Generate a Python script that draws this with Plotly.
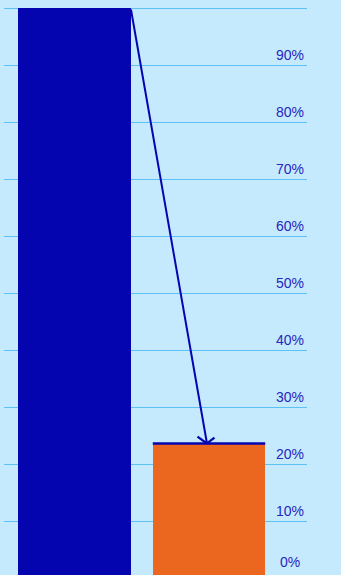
import plotly.graph_objects as go

# Data
categories = [0, 1]
values = [1.0, 0.236]
bar_colors = ["#0505B0", "#EB671F"]
tick_values = [0, 0.1, 0.2, 0.3, 0.4, 0.5, 0.6, 0.7, 0.8, 0.9, 1.0]
tick_labels = ["", "10%", "20%", "30%", "40%", "50%", "60%", "70%", "80%", "90%", ""]
zero_label = "0%"

BG = "#C5EAFD"
GRID = "#5CC1F5"
TXT = "#2626BF"
DARK = "#0505B0"
FONT = "Liberation Sans, Arial, sans-serif"
bar_w = 0.836

fig = go.Figure()
fig.add_trace(go.Bar(
    x=categories, y=values, width=bar_w,
    marker=dict(color=bar_colors, line=dict(width=0)),
    hoverinfo="skip", showlegend=False,
))

# dark line on top of the second bar
fig.add_shape(type="line", xref="x", yref="y",
              x0=categories[1] - bar_w / 2, x1=categories[1] + bar_w / 2,
              y0=values[1], y1=values[1],
              line=dict(color=DARK, width=2.5))

# arrow from top-right of first bar to top of second bar
fig.add_annotation(x=categories[1] - 0.015, y=values[1], ax=categories[0] + bar_w / 2, ay=values[0],
                   xref="x", yref="y", axref="x", ayref="y",
                   showarrow=True, arrowhead=0, arrowwidth=2, arrowcolor=DARK, text="")
for dx, dy in [(-11, -8), (9, -7)]:
    fig.add_annotation(x=categories[1] - 0.015, y=values[1], xref="x", yref="y",
                       ax=dx, ay=dy, showarrow=True, arrowhead=0, arrowwidth=2.2,
                       arrowcolor=DARK, text="")

# 0% label sits a little higher than the other labels
fig.add_annotation(x=1, y=tick_values[0], xref="paper", yref="y", text=zero_label,
                   showarrow=False, xanchor="right", yanchor="middle", xshift=-5, yshift=16,
                   font=dict(family=FONT, size=14, color=TXT))

fig.update_layout(
    width=341, height=578,
    margin=dict(l=4, r=34, t=7, b=0, pad=0),
    paper_bgcolor=BG, plot_bgcolor=BG,
    bargap=0,
    xaxis=dict(range=[-0.524, 1.7286], showgrid=False, zeroline=False,
               showticklabels=False, fixedrange=True),
    yaxis=dict(range=[0, 1.0018], side="right", tickvals=tick_values, ticktext=tick_labels,
               ticklabelposition="inside top", showgrid=True, gridcolor=GRID, gridwidth=1,
               zeroline=False, ticks="", fixedrange=True,
               tickfont=dict(family=FONT, size=14, color=TXT)),
)

fig.write_html("out.html", config={"displayModeBar": False},
               post_script="document.body.style.margin='0';document.body.style.overflow='hidden';document.documentElement.style.overflow='hidden';")
